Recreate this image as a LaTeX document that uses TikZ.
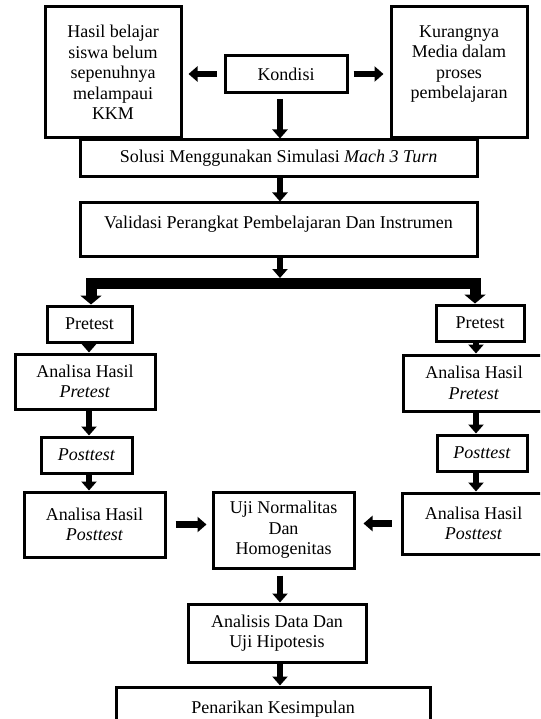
\documentclass[tikz,border=0pt]{standalone}
\usepackage{fontspec}
\setmainfont{Liberation Serif}
\usetikzlibrary{arrows.meta,calc}
\begin{document}
\begin{tikzpicture}[x=1pt,y=-1pt,
  bx/.style={draw, line width=3pt, align=center, inner sep=0pt, font=\fontsize{18}{20.5}\selectfont},
  arr/.style={line width=6.5pt, -{Triangle[length=9pt,width=15pt]}},
  bar/.style={line width=11pt, -{Triangle[length=9pt,width=21pt]}},
]
\useasboundingbox (0,0) rectangle (540,719);
\clip (0,0) rectangle (540,719);
\fill[white] (0,0) rectangle (540,719);

\coordinate (mid) at (280,0);
\coordinate (lcol) at (89,0);
\coordinate (rcol) at (476,0);

% top row
\node[bx, minimum width=136pt, minimum height=131pt] (hasil) at (113,72.5) {Hasil belajar\\siswa belum\\sepenuhnya\\melampaui\\KKM};
\node[bx, minimum width=136pt, minimum height=131pt] (kurang) at (459,72.5) {Kurangnya\\Media dalam\\proses\\pembelajaran\\\mbox{}};
\node[bx, minimum width=122pt, minimum height=37pt] (kond) at (286,74) {Kondisi};

% middle column
\node[bx, minimum width=397pt, minimum height=37pt] (solusi) at (278.5,158.5) {Solusi Menggunakan Simulasi \textit{Mach 3 Turn}};
\node[bx, minimum width=397pt, minimum height=53pt] (valid) at (278.5,229.5) {Validasi Perangkat Pembelajaran Dan Instrumen\\[-7pt]\mbox{}};
\coordinate (split) at (280,283.5);

% left column
\node[bx, minimum width=85pt, minimum height=36pt] (preL) at (89.5,324) {Pretest};
\node[bx, minimum width=140pt, minimum height=55pt] (apL) at (85,381.5) {Analisa Hasil\\\textit{Pretest}};
\node[bx, minimum width=91pt, minimum height=36pt] (postL) at (86.5,455) {\textit{Posttest}};
\node[bx, minimum width=141pt, minimum height=65pt] (aqL) at (94.5,524.5) {Analisa Hasil\\\textit{Posttest}};

% right column
\node[bx, minimum width=88pt, minimum height=36pt] (preR) at (480,323) {Pretest};
\node[bx, minimum width=142pt, minimum height=56pt] (apR) at (474,383) {Analisa Hasil\\\textit{Pretest}};
\node[bx, minimum width=90pt, minimum height=36pt] (postR) at (482,453) {\textit{Posttest}};
\node[bx, minimum width=143pt, minimum height=61pt] (aqR) at (473.5,523.5) {Analisa Hasil\\\textit{Posttest}};

% bottom
\node[bx, minimum width=141pt, minimum height=76pt] (uji) at (283.5,530) {Uji Normalitas\\Dan\\Homogenitas};
\node[bx, minimum width=178pt, minimum height=58pt] (anal) at (277,633) {Analisis Data Dan\\Uji Hipotesis};
\node[bx, minimum width=314pt, minimum height=44pt] (tarik) at (273,709) {Penarikan Kesimpulan};

% connectors
\draw[arr, shorten <=7pt, shorten >=6pt] (kond.west) -- (kond.west -| hasil.east);
\draw[arr, shorten <=5pt, shorten >=6pt] (kond.east) -- (kond.east -| kurang.west);
\draw[arr, shorten <=5pt] (kond.south -| mid) -- (solusi.north -| mid);
\draw[arr] (solusi.south -| mid) -- (valid.north -| mid);
\draw[arr] (valid.south -| mid) -- ([yshift=5.5pt]split);
\draw[bar] (split) -| ([xshift=1.5pt]preL.north);
\draw[bar] (split) -| ([xshift=-5pt]preR.north);

\draw[arr] (preL.south -| lcol) -- (apL.north -| lcol);
\draw[arr] (apL.south -| lcol) -- (postL.north -| lcol);
\draw[arr] (postL.south -| lcol) -- (aqL.north -| lcol);
\draw[arr] (preR.south -| rcol) -- (apR.north -| rcol);
\draw[arr] (apR.south -| rcol) -- (postR.north -| rcol);
\draw[arr] (postR.south -| rcol) -- (aqR.north -| rcol);

\draw[arr, shorten <=9pt, shorten >=5pt] (aqL.east) -- (aqL.east -| uji.west);
\draw[arr, shorten <=9pt, shorten >=8pt] (aqR.west) -- (aqR.west -| uji.east);
\draw[arr, shorten <=6pt] (uji.south -| mid) -- (anal.north -| mid);
\draw[arr] (anal.south -| mid) -- (tarik.north -| mid);
\end{tikzpicture}
\end{document}
